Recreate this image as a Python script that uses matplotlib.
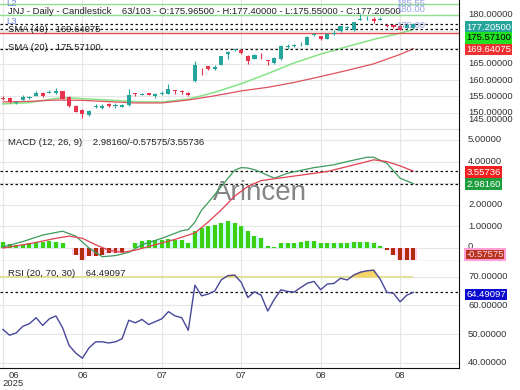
import matplotlib.pyplot as plt
import numpy as np
from matplotlib.transforms import blended_transform_factory

plt.rcParams['font.family'] = ['Liberation Sans', 'DejaVu Sans']

# JNJ daily candles (63 visible bars)
opens = [154.6, 154.5, 152.9, 154.0, 154.5, 155.1, 156.2, 156.1, 156.0, 156.6,
         154.8, 152.2, 150.9, 149.3, 151.9, 151.5, 152.8, 152.0, 151.9, 152.4,
         156.0, 155.5, 156.1, 155.2, 155.9, 155.8, 157.0, 156.6, 156.2, 159.7,
         162.9, 164.2, 163.5, 164.7, 168.1, 169.3, 169.4, 167.5, 166.6, 168.1,
         166.1, 165.2, 166.5, 170.3, 170.4, 171.0, 170.9, 173.9, 173.4, 172.7,
         174.3, 175.0, 176.1, 175.3, 178.6, 178.7, 178.8, 178.5, 176.9, 176.8,
         176.6, 175.9, 175.965]
highs = [155.0, 154.7, 153.6, 155.5, 155.2, 156.8, 156.4, 157.0, 157.6, 156.7,
         155.0, 152.3, 151.0, 150.8, 152.8, 152.8, 153.1, 152.9, 152.6, 157.4,
         156.2, 156.1, 156.2, 156.2, 156.7, 158.7, 157.0, 157.0, 156.3, 165.9,
         163.6, 164.4, 164.7, 167.5, 168.8, 169.7, 169.6, 167.6, 168.1, 168.3,
         166.3, 167.1, 170.8, 171.0, 171.0, 171.8, 173.4, 174.6, 173.6, 174.5,
         175.3, 176.6, 176.6, 178.0, 180.2, 179.7, 179.5, 179.3, 177.2, 177.0,
         176.8, 177.1, 177.4]
lows = [153.8, 153.0, 152.6, 153.8, 154.1, 155.0, 154.9, 156.0, 155.8, 154.1,
        151.8, 150.1, 148.5, 149.1, 151.3, 151.0, 151.7, 151.5, 151.8, 152.2,
        155.2, 155.3, 155.4, 154.4, 155.3, 155.7, 155.7, 155.7, 155.0, 159.5,
        161.7, 163.2, 163.2, 164.6, 166.4, 169.0, 168.0, 165.0, 166.4, 166.6,
        164.6, 165.0, 166.3, 169.7, 170.1, 170.6, 170.7, 173.4, 172.3, 172.5,
        174.0, 174.8, 175.6, 175.2, 178.5, 178.6, 177.6, 178.4, 176.3, 176.0,
        175.3, 175.6, 175.55]
closes = [154.3, 153.2, 153.2, 154.8, 154.7, 156.2, 155.0, 156.4, 156.8, 154.3,
          152.0, 150.3, 149.6, 150.6, 152.2, 152.1, 152.1, 152.3, 152.3, 155.5,
          155.8, 155.9, 155.5, 155.9, 156.1, 157.2, 156.8, 156.5, 155.3, 164.5,
          162.7, 163.4, 164.0, 167.3, 168.6, 169.5, 168.2, 165.8, 167.7, 167.9,
          165.8, 166.9, 170.6, 170.6, 170.7, 171.1, 173.1, 174.1, 172.5, 174.3,
          174.6, 176.5, 176.3, 177.8, 178.8, 178.9, 178.3, 178.7, 176.7, 176.3,
          175.4, 176.9, 177.205]

sma20_idx = [0, 4, 8, 10, 12, 16, 20, 24, 28, 30, 32, 36, 40, 44, 48, 52, 56, 60, 62]
sma20_val = [152.7, 153.1, 154.4, 154.6, 154.3, 153.9, 153.4, 153.3, 154.2, 155.2,
             156.3, 158.9, 162.0, 165.3, 168.0, 170.3, 172.5, 174.4, 175.571]
sma40_idx = [0, 4, 8, 12, 16, 20, 24, 28, 32, 36, 40, 44, 48, 52, 56, 60, 62]
sma40_val = [153.3, 153.5, 153.9, 153.8, 153.4, 153.0, 153.0, 153.9, 155.2, 156.7,
             157.8, 159.3, 161.1, 163.0, 165.0, 167.9, 169.64075]

# MACD (12, 26, 9)
macd_idx = [0, 3, 6, 9, 11, 13, 15, 17, 19, 21, 24, 27, 28, 29, 30, 31, 33, 35, 36,
            37, 38, 39, 41, 43, 47, 50, 52, 55, 56, 58, 60, 62]
macd_val = [0.05, 0.3, 0.6, 0.78, 0.55, 0.0, -0.4, -0.35, -0.2, 0.15, 0.45, 0.8,
            0.85, 1.2, 1.75, 2.1, 2.85, 3.6, 3.72, 3.7, 3.62, 3.5, 3.23, 3.46, 3.72,
            3.85, 4.0, 4.2, 4.2, 3.92, 3.23, 2.9816]
signal_idx = [0, 4, 8, 10, 12, 14, 16, 18, 20, 23, 26, 29, 31, 33, 35, 37, 39, 44,
              49, 54, 56, 58, 60, 62]
signal_val = [0.0, 0.2, 0.45, 0.55, 0.45, 0.15, -0.1, -0.2, -0.1, 0.15, 0.4, 0.7,
              1.2, 1.77, 2.4, 2.85, 3.12, 3.33, 3.54, 3.92, 4.08, 4.0, 3.8, 3.55736]
hist = [0.26, 0.18, 0.15, 0.15, 0.23, 0.26, 0.29, 0.31, 0.29, 0.23,
        -0.02, -0.31, -0.54, -0.38, -0.38, -0.31, -0.23, -0.23, -0.20, 0.02,
        0.23, 0.31, 0.35, 0.38, 0.38, 0.42, 0.38, 0.38, 0.23, 0.77,
        0.92, 1.0, 1.08, 1.18, 1.23, 1.18, 1.03, 0.77, 0.54, 0.46,
        0.08, 0.05, 0.23, 0.23, 0.23, 0.26, 0.31, 0.31, 0.23, 0.23,
        0.23, 0.23, 0.23, 0.26, 0.26, 0.26, 0.23, 0.08, -0.10, -0.31,
        -0.54, -0.57, -0.57575]

# RSI (20, 70, 30)
rsi = [51.6, 49.6, 50.4, 52.7, 53.6, 55.7, 53.0, 55.3, 56.3, 52.2,
       46.0, 43.4, 41.6, 45.2, 47.3, 47.3, 46.9, 47.3, 48.4, 54.8,
       53.9, 55.1, 53.3, 54.3, 55.3, 57.8, 56.3, 55.7, 51.3, 67.0,
       63.3, 63.9, 65.0, 68.9, 70.3, 70.5, 68.0, 62.7, 64.7, 63.5,
       58.0, 62.1, 65.4, 64.8, 64.6, 66.2, 67.7, 68.3, 65.4, 67.4,
       67.6, 69.4, 68.8, 70.5, 71.5, 72.0, 72.2, 69.1, 64.5, 64.2,
       61.2, 63.5, 64.49097]

tick_idx = [0, 12, 24, 36, 48, 60]
tick_lbl = ['06\n2025', '06', '07', '07', '08', '08']

W, H = 520, 390
FS = 6.8
fig = plt.figure(figsize=(W / 100, H / 100), dpi=100)


def add_panel(top, bottom):
    return fig.add_axes([0, 1 - bottom / H, 459 / W, (bottom - top) / H])


ax_p = add_panel(0, 130)
ax_m = add_panel(130, 261)
ax_r = add_panel(261, 368)

for ax, yt in [(ax_p, range(145, 185, 5)), (ax_m, range(0, 6)), (ax_r, range(40, 80, 10))]:
    ax.set_xlim(-0.45, 68.9)
    ax.set_xticks(tick_idx)
    ax.set_yticks(list(yt))
    ax.grid(True, color='#e6e6e6', lw=0.8)
    ax.set_axisbelow(True)
    ax.tick_params(length=0, labelleft=False, labelright=False, labelbottom=False)
    ax.spines['left'].set_visible(False)
    ax.spines['top'].set_visible(False)
    ax.spines['right'].set_color('#111111')
    ax.spines['bottom'].set_color('#444444')

ax_p.set_ylim(144.7, 184.6)
ax_m.set_ylim(-0.6, 5.46)
ax_r.set_ylim(38.2, 75.4)

ax_r.tick_params(labelbottom=True, pad=2, labelsize=FS, labelcolor='#333333')
ax_r.set_xticklabels(tick_lbl)
first = ax_r.get_xticklabels()[0]
first.set_ha('left')
first.set_multialignment('center')
first.set_linespacing(0.95)
ax_r.spines['bottom'].set_color('#111111')


def corner_text(ax, px, py, s, **kw):
    kw.setdefault('color', '#222222')
    ax.annotate(s, xy=(0, 1), xycoords='axes fraction', xytext=(px * 0.72, -py * 0.72),
                textcoords='offset points', va='center', ha='left', fontsize=FS,
                annotation_clip=False, **kw)


def right_label(ax, val, text, dy=0, fc=None, tc='#333333', ec=None):
    tr = blended_transform_factory(ax.transAxes, ax.transData)
    bbox = None
    off = 6.5
    if fc:
        bbox = dict(boxstyle='square,pad=0.12', fc=fc, ec=ec or fc, lw=1.5 if ec else 0)
        off = 5.2
    ax.annotate(text, xy=(1, val), xycoords=tr, xytext=(off, -dy * 0.72),
                textcoords='offset points', va='center', ha='left', fontsize=FS,
                color=tc, bbox=bbox, annotation_clip=False, zorder=5)


# ---- price panel
o, h, l, c = map(np.array, (opens, highs, lows, closes))
xs = np.arange(len(c))
up = c >= o
cols = np.where(up, '#26a69a', '#e8344e')
ax_p.vlines(xs, l, h, colors=cols, lw=0.8, zorder=3)
body = np.maximum(np.abs(c - o), 0.15)
ax_p.bar(xs, body, bottom=np.minimum(o, c), width=0.62, color=cols, zorder=3)

ax_p.plot(sma20_idx, sma20_val, color='#86e486', lw=1.1, zorder=2)
ax_p.plot(sma40_idx, sma40_val, color='#e0505e', lw=0.9, zorder=2)

ax_p.axhline(183.4, color='#90e090', lw=1)
ax_p.axhline(180.0, color='#90e090', lw=1)
ax_p.axhline(174.6, color='#e05050', lw=1)
for v in (closes[-1], sma20_val[-1], sma40_val[-1]):
    ax_p.axhline(v, color='#111111', lw=0.9, ls=(0, (2, 2)))

corner_text(ax_p, 8, 12, 'JNJ - Daily - Candlestick    %d/%d - O:%.5f - H:%.5f - L:%.5f - C:%.5f'
            % (len(c), 103, opens[-1], highs[-1], lows[-1], closes[-1]))
corner_text(ax_p, 8, 30, 'SMA (40)   %.5f' % sma40_val[-1])
corner_text(ax_p, 8, 47, 'SMA (20)   %.5f' % sma20_val[-1])
corner_text(ax_p, 6, 3, 'L2', color='#7385d6')
corner_text(ax_p, 6, 22, 'L3', color='#7385d6')
corner_text(ax_p, 396, 3, '185.55', color='#8090dd', alpha=0.8)
corner_text(ax_p, 396, 10, '180.00', color='#8090dd', alpha=0.8)
corner_text(ax_p, 396, 25, '175.00', color='#8090dd', alpha=0.8)

for v in (180, 165, 160, 155, 150):
    right_label(ax_p, v, '%.5f' % v)
right_label(ax_p, 145, '%.5f' % 145, dy=-10)
right_label(ax_p, closes[-1], '%.5f' % closes[-1], dy=3, fc='#26a69a', tc='white')
right_label(ax_p, sma20_val[-1], '%.5f' % sma20_val[-1], dy=8.5, fc='#22e022', tc='black')
right_label(ax_p, sma40_val[-1], '%.5f' % sma40_val[-1], dy=1, fc='#ee3030', tc='white')

# ---- MACD panel
hv = np.array(hist)
halo = np.where(hv >= 0, '#c8fafa', '#ffd0ec')
solid = np.where(hv >= 0, '#3cd010', '#b02c0c')
ax_m.bar(xs, hv, width=1.0, color=halo, zorder=1)
ax_m.bar(xs, hv, width=0.6, color=solid, zorder=2)
ax_m.plot(macd_idx, macd_val, color='#3c9a5c', lw=0.9, zorder=3)
ax_m.plot(signal_idx, signal_val, color='#e04050', lw=0.9, zorder=3)
for v in (signal_val[-1], macd_val[-1]):
    ax_m.axhline(v, color='#111111', lw=0.9, ls=(0, (2, 2)))
ax_m.text(260 / W, 1 - 193 / H, 'Arincen', transform=fig.transFigure, ha='center',
          va='center', fontsize=20, color='#707070', alpha=0.85, zorder=0.5)
corner_text(ax_m, 8, 13, 'MACD (12, 26, 9)    %.5f/%.5f/%.5f'
            % (macd_val[-1], hist[-1], signal_val[-1]))
for v in (5, 4, 2, 1):
    right_label(ax_m, v, '%.5f' % v)
right_label(ax_m, 0, '0', dy=-2)
right_label(ax_m, signal_val[-1], '%.5f' % signal_val[-1], dy=1, fc='#ee2020', tc='white')
right_label(ax_m, macd_val[-1], '%.5f' % macd_val[-1], dy=0.5, fc='#1e9e3e', tc='white')
right_label(ax_m, hist[-1], '%.5f' % hist[-1], dy=-6, fc='#b8321e', tc='#ffd8e8', ec='#ff9fd5')

# ---- RSI panel
rv = np.array(rsi)
ax_r.hlines(70, -0.45, xs[-1], color='#e2e29a', lw=1.5, zorder=1)
ax_r.fill_between(xs, rv, 70, where=rv > 70, interpolate=True, color='#f2d46a', zorder=2)
ax_r.plot(xs, rv, color='#48489a', lw=1, zorder=3)
ax_r.axhline(rsi[-1], color='#111111', lw=0.9, ls=(0, (2, 2)))
corner_text(ax_r, 8, 12, 'RSI (20, 70, 30)    %.5f' % rsi[-1])
for v in (70, 60, 50, 40):
    right_label(ax_r, v, '%.5f' % v)
right_label(ax_r, rsi[-1], '%.5f' % rsi[-1], dy=2, fc='#0a0ad0', tc='white')

fig.savefig('out.png', dpi=100)
